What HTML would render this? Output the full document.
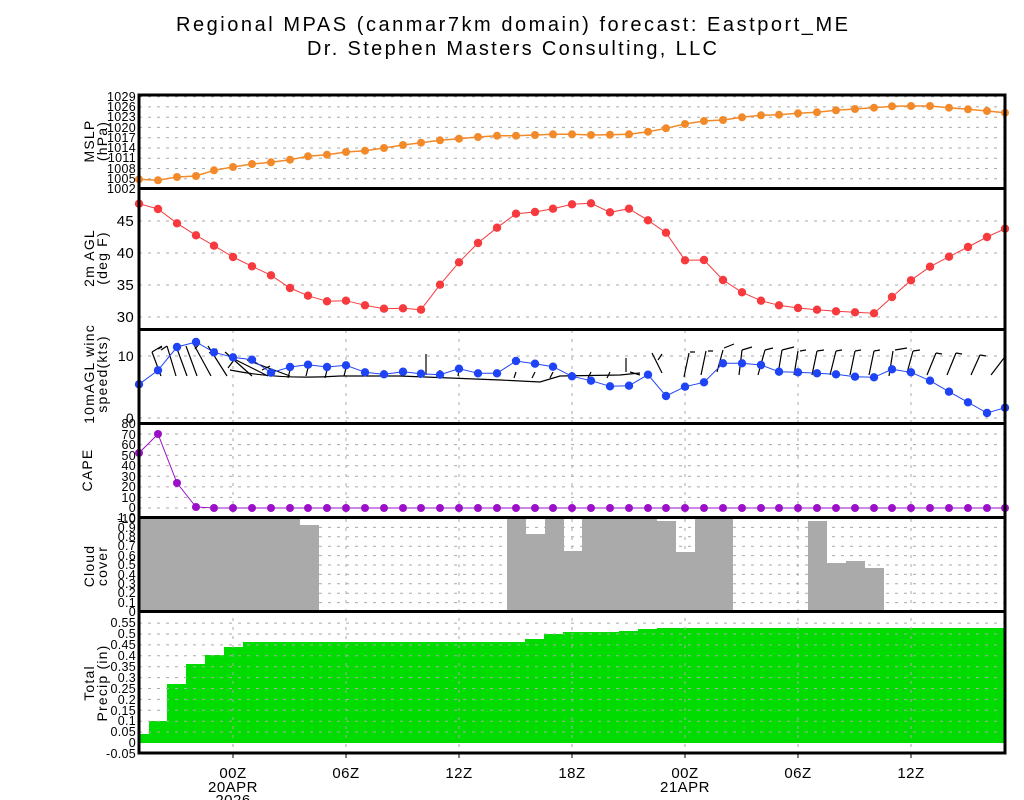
<!DOCTYPE html>
<html><head><meta charset="utf-8"><style>
html,body{margin:0;padding:0;background:#fff;}
svg{display:block;font-family:"Liberation Sans",sans-serif;}
.t{font-size:12.5px;text-anchor:end;fill:#000;letter-spacing:0.3px}
.g{stroke:#aaa;stroke-width:1;stroke-dasharray:3,6;fill:none}
.lab{font-size:14px;text-anchor:middle;fill:#000;letter-spacing:1.2px}
</style></head><body>
<svg width="1024" height="800" viewBox="0 0 1024 800" xmlns="http://www.w3.org/2000/svg">
<defs>
<marker id="mo" markerWidth="10" markerHeight="10" refX="5" refY="5" markerUnits="userSpaceOnUse"><circle cx="5" cy="5" r="4" fill="#f28a2a"/></marker>
<marker id="mr" markerWidth="10" markerHeight="10" refX="5" refY="5" markerUnits="userSpaceOnUse"><circle cx="5" cy="5" r="4.2" fill="#f63a3e"/></marker>
<marker id="mb" markerWidth="10" markerHeight="10" refX="5" refY="5" markerUnits="userSpaceOnUse"><circle cx="5" cy="5" r="4.2" fill="#1f44f6"/></marker>
<marker id="mp" markerWidth="10" markerHeight="10" refX="5" refY="5" markerUnits="userSpaceOnUse"><circle cx="5" cy="5" r="4" fill="#9a10c8"/></marker>
</defs>

<text x="176" y="31" font-size="20" textLength="672" lengthAdjust="spacing">Regional MPAS (canmar7km domain) forecast: Eastport_ME</text>
<text x="307" y="55" font-size="20" textLength="410" lengthAdjust="spacing">Dr. Stephen Masters Consulting, LLC</text>

<!-- cloud bars -->
<g fill="#aaaaaa">
<rect x="139" y="518" width="161" height="94"/>
<rect x="300" y="525" width="19" height="87"/>
<rect x="507" y="518" width="19" height="94"/>
<rect x="526" y="534" width="19" height="78"/>
<rect x="545" y="518" width="19" height="94"/>
<rect x="564" y="551" width="18" height="61"/>
<rect x="582" y="518" width="75" height="94"/>
<rect x="657" y="521" width="19" height="91"/>
<rect x="676" y="552" width="19" height="60"/>
<rect x="695" y="518" width="38" height="94"/>
<rect x="770" y="610" width="38" height="2"/>
<rect x="808" y="521" width="19" height="91"/>
<rect x="827" y="563" width="19" height="49"/>
<rect x="846" y="561" width="19" height="51"/>
<rect x="865" y="568" width="19" height="44"/>
</g>
<!-- precip -->
<polygon fill="#00dc00" points="139,743 139,734 149,734 149,721 167,721 167,684 186,684 186,664 205,664 205,655 224,655 224,647 243,647 243,642 525,642 525,639 544,639 544,634 563,634 563,632 619,632 619,631 638,631 638,629 657,629 657,628 1005,628 1005,743"/>

<!-- horizontal grids -->
<g class="g">
<path d="M139 178.7H1005M139 168.5H1005M139 158.2H1005M139 148H1005M139 137.7H1005M139 127.4H1005M139 117.2H1005M139 106.9H1005M139 96.7H1005"/>
<path d="M139 317H1005M139 285H1005M139 253H1005M139 221H1005"/>
<path d="M139 418H1005M139 356H1005"/>
<path d="M139 508H1005M139 497.4H1005M139 486.9H1005M139 476.3H1005M139 465.7H1005M139 455.2H1005M139 444.6H1005M139 434H1005"/>
<path d="M139 602.6H1005M139 593.2H1005M139 583.8H1005M139 574.4H1005M139 565H1005M139 555.6H1005M139 546.2H1005M139 536.8H1005M139 527.4H1005"/>
<path d="M139 732.1H1005M139 721.2H1005M139 710.3H1005M139 699.4H1005M139 688.5H1005M139 677.6H1005M139 666.7H1005M139 655.8H1005M139 644.9H1005M139 634H1005M139 623.1H1005"/>
<path d="M233 330V753M346 330V753M459 330V753M572 330V753M685 330V753M798 330V753M911 330V753"/>
</g>

<!-- wind barbs -->
<g stroke="#000" stroke-width="1.2" fill="none">
<path d="M152 352l10-6M152 352l9 24M162 347l-4 2M167 346l9 30M167 346l-6 4M180 347l-4 3M176 346l11 30M186 346l11 30M193 343l18 33M200 343l-5 6M208 346l19 30M217 349l-8 4M225 352l27 24M228 356l40 20M247 360l43 16"/>
<path d="M234 360l-6 8M270 366l-8 4M290 370l-2 8M308 368l-2 8M327 370l-2 8M346 368l-2 8M365 370l-2 6M384 370l-1 7M403 370l-1 6M421 370l-1 8M440 370l-1 8M459 370l-1 6M478 370l-1 6M497 370l-1 6M516 372l-2 6M535 372l-3 6M553 372l-3 6M572 372l-3 6M591 372l-3 6M610 372l-3 6"/>
<path d="M230 370Q280 380 340 376L400 376L500 380L540 382L560 376L620 375L640 373M426 354V375"/>
<path d="M626 358V372M640 375l-10-3"/>
<path d="M652 353l10 20M662 354l-4 6"/>
<path d="M689 353l-5 24M690 352l5 0M706 351l-5 24M708 351l5 0M723 350l-6 22M724 348l10-4M742 350l-3 25M742 350l10-3M765 350l-7 25M765 350l8-2M782 350l-4 24M782 350l12-3M798 351l-4 24M800 351l6-1M817 351l-5 24M817 351l7-1M836 351l-6 24M836 351l6-1M855 351l-5 24M855 351l6-1M874 351l-5 24M874 351l6-1M893 351l-4 25M895 350l12-2M913 351l-6 22M913 351l7-1M936 353l-9 22M936 353l6 1M956 353l-9 22M956 353l6 1M980 355l-9 20M980 355l6 1M1004 358l-13 17"/>
</g>

<!-- series -->
<polyline fill="none" stroke="#f28a2a" stroke-width="1.5" marker-start="url(#mo)" marker-mid="url(#mo)" marker-end="url(#mo)" points="139,179.3 158,180.3 177,177 196,176 214,170.3 233,167 252,164 271,162.3 290,159.7 308,156.3 327,154.7 346,152 365,150.7 384,148 403,145 421,142.7 440,140.3 459,138.7 478,137 497,135.7 516,135.7 535,135 553,134.3 572,134.3 591,135 610,134.7 629,134.3 648,131.7 666,128.3 685,124 704,121 723,120 742,117.3 761,115.3 779,114.7 798,113.3 817,112.3 836,110.3 855,109 874,107.7 892,106.3 911,106 930,106 949,107.7 968,109.3 987,111 1005,112.7"/>
<polyline fill="none" stroke="#f63a3e" stroke-width="1" marker-start="url(#mr)" marker-mid="url(#mr)" marker-end="url(#mr)" points="139,203.7 158,209 177,223.3 196,235.3 214,245.7 233,257 252,266.3 271,275.3 290,288 308,295.7 327,301.3 346,300.7 365,305.3 384,308.7 403,308.3 421,309.7 440,284.7 459,262.3 478,243 497,227.7 516,213.7 535,212 553,208.7 572,204.3 591,203.3 610,212.3 629,208.7 648,220.3 666,232.7 685,260.3 704,260 723,280 742,292.3 761,300.7 779,305.3 798,308 817,309.7 836,311.3 855,312.3 874,313.3 892,297 911,280.3 930,266.7 949,256.7 968,247 987,237 1005,228.7"/>
<polyline fill="none" stroke="#1f44f6" stroke-width="1" marker-start="url(#mb)" marker-mid="url(#mb)" marker-end="url(#mb)" points="139,384.3 158,370.3 177,347 196,342 214,352.3 233,357.3 252,359.7 271,372.7 290,367 308,364.7 327,367 346,365.3 365,372.3 384,374.3 403,371.7 421,373.7 440,374.7 459,368.7 478,373.3 497,373.3 516,361 535,363.7 553,366.7 572,376.3 591,380.7 610,386.3 629,385.7 648,374.7 666,396 685,386.7 704,382.3 723,363.3 742,363.3 761,365 779,371.7 798,372.3 817,373.3 836,374.3 855,376.7 874,377.3 892,369.3 911,372.3 930,380.7 949,391.7 968,402.3 987,413 1005,407.7"/>
<polyline fill="none" stroke="#9a10c8" stroke-width="1" marker-start="url(#mp)" marker-mid="url(#mp)" marker-end="url(#mp)" points="139,453 158,434 177,483 196,507 214,508 233,508 252,508 271,508 290,508 308,508 327,508 346,508 365,508 384,508 403,508 421,508 440,508 459,508 478,508 497,508 516,508 535,508 553,508 572,508 591,508 610,508 629,508 648,508 666,508 685,508 704,508 723,508 742,508 761,508 779,508 798,508 817,508 836,508 855,508 874,508 892,508 911,508 930,508 949,508 968,508 987,508 1005,508"/>

<!-- frames -->
<g stroke="#000" stroke-width="3" fill="none">
<rect x="139" y="95" width="866" height="658"/>
<path d="M139 188.5H1005M139 329.5H1005M139 423.5H1005M139 517.5H1005M139 611.5H1005"/>
</g>
<g stroke="#000" stroke-width="1">
<path d="M233 753v5M346 753v5M459 753v5M572 753v5M685 753v5M798 753v5M911 753v5"/>
</g>

<!-- tick labels -->
<g class="t">
<text x="136" y="193">1002</text><text x="136" y="183">1005</text><text x="136" y="173">1008</text><text x="136" y="162">1011</text><text x="136" y="152">1014</text><text x="136" y="142">1017</text><text x="136" y="132">1020</text><text x="136" y="121">1023</text><text x="136" y="111">1026</text><text x="136" y="101">1029</text>
<text x="134" y="226" font-size="15">45</text><text x="134" y="258" font-size="15">40</text><text x="134" y="290" font-size="15">35</text><text x="134" y="322" font-size="15">30</text>
<text x="134" y="361" font-size="14">10</text><text x="134" y="423" font-size="14">0</text>
<text x="136" y="523">-10</text><text x="136" y="512">0</text><text x="136" y="502">10</text><text x="136" y="491">20</text><text x="136" y="481">30</text><text x="136" y="470">40</text><text x="136" y="460">50</text><text x="136" y="449">60</text><text x="136" y="439">70</text><text x="136" y="428">80</text>
<text x="136" y="616">0</text><text x="136" y="607">0.1</text><text x="136" y="597">0.2</text><text x="136" y="588">0.3</text><text x="136" y="579">0.4</text><text x="136" y="569">0.5</text><text x="136" y="560">0.6</text><text x="136" y="550">0.7</text><text x="136" y="541">0.8</text><text x="136" y="532">0.9</text><text x="136" y="522">1.0</text>
<text x="136" y="758">-0.05</text><text x="136" y="747">0</text><text x="136" y="736">0.05</text><text x="136" y="725">0.1</text><text x="136" y="715">0.15</text><text x="136" y="704">0.2</text><text x="136" y="693">0.25</text><text x="136" y="682">0.3</text><text x="136" y="671">0.35</text><text x="136" y="660">0.4</text><text x="136" y="649">0.45</text><text x="136" y="638">0.5</text><text x="136" y="627">0.55</text>
</g>
<g font-size="15" text-anchor="middle" letter-spacing="0.5">
<text x="233" y="778">00Z</text><text x="233" y="792">20APR</text><text x="233" y="805">2026</text>
<text x="346" y="778">06Z</text><text x="459" y="778">12Z</text><text x="572" y="778">18Z</text>
<text x="685" y="778">00Z</text><text x="685" y="792">21APR</text>
<text x="798" y="778">06Z</text><text x="911" y="778">12Z</text>
</g>

<!-- axis titles -->
<g class="lab">
<text transform="translate(94,141) rotate(-90)">MSLP</text>
<text transform="translate(107,141) rotate(-90)">(hPa)</text>
<text transform="translate(94,258) rotate(-90)">2m AGL</text>
<text transform="translate(107,258) rotate(-90)">(deg F)</text>
<text transform="translate(94,374) rotate(-90)">10mAGL winc</text>
<text transform="translate(107,374) rotate(-90)">speed(kts)</text>
<text transform="translate(92,470) rotate(-90)">CAPE</text>
<text transform="translate(94,566) rotate(-90)">Cloud</text>
<text transform="translate(107,566) rotate(-90)">cover</text>
<text transform="translate(94,683) rotate(-90)">Total</text>
<text transform="translate(107,683) rotate(-90)">Precip (in)</text>
</g>
</svg>
</body></html>
